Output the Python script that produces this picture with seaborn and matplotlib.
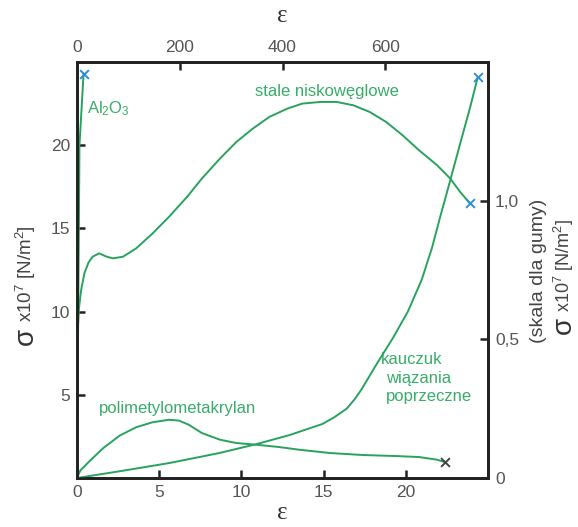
import matplotlib
matplotlib.use('Agg')
import pandas as pd
import matplotlib.pyplot as plt
import seaborn as sns

sns.set_style('ticks')
plt.rcParams['font.family'] = ['Liberation Sans', 'DejaVu Sans']
plt.rcParams['mathtext.fontset'] = 'custom'
plt.rcParams['mathtext.rm'] = 'Liberation Sans'
plt.rcParams['mathtext.it'] = 'Liberation Sans:italic'

# bottom axis (eps) / left axis (sigma x1e7)
al2o3_eps = [0, 0.15, 0.4]
al2o3_sig = [0, 20.0, 24.3]

steel_eps = [0, 0.05, 0.12, 0.25, 0.45, 0.7, 0.95, 1.35, 1.8, 2.2, 2.8, 3.6, 4.6, 5.6,
             6.7, 7.6, 8.7, 9.7, 10.7, 11.7, 12.8, 13.7, 14.8, 15.8, 16.8, 17.8,
             18.8, 19.8, 20.8, 21.9, 22.7, 23.3, 23.9]
steel_sig = [0, 9.0, 10.2, 11.3, 12.3, 12.95, 13.3, 13.5, 13.3, 13.2, 13.3, 13.8, 14.7, 15.7,
             16.9, 18.0, 19.2, 20.2, 21.0, 21.7, 22.2, 22.5, 22.6, 22.6, 22.4, 22.0,
             21.4, 20.6, 19.7, 18.8, 18.0, 17.2, 16.5]

pmma_eps = [0, 0.2, 0.8, 1.6, 2.6, 3.6, 4.6, 5.6, 6.2, 6.8, 7.6, 8.7, 9.7, 10.9,
            12.3, 13.5, 15.4, 17.4, 19.4, 20.8, 21.9, 22.4]
pmma_sig = [0, 0.45, 1.05, 1.8, 2.55, 3.05, 3.35, 3.5, 3.45, 3.2, 2.7, 2.3, 2.1, 2.0,
            1.86, 1.7, 1.5, 1.38, 1.32, 1.26, 1.1, 0.95]

# top axis (eps) / right axis (rubber scale)
rubber_eps = [0, 82, 180, 277, 349, 414, 478, 500, 525, 540, 554, 583, 615, 644,
              671, 691, 706, 726, 745, 765, 780]
rubber_sig = [0, 0.024, 0.054, 0.090, 0.122, 0.155, 0.195, 0.218, 0.25, 0.283, 0.32,
              0.41, 0.505, 0.60, 0.715, 0.83, 0.935, 1.07, 1.20, 1.335, 1.445]

bottom_ticks = [0, 5, 10, 15, 20]
left_ticks = [5, 10, 15, 20]
top_ticks = [0, 200, 400, 600]
right_ticks = [0, 0.5, 1.0]
right_labels = ['0', '0,5', '1,0']

green = '#27a35e'
text_green = '#38ad69'
blue = '#2b8fd6'
tick_col = '#555555'

W, H = 578, 527
fig = plt.figure(figsize=(W / 100, H / 100), dpi=100)
ax = fig.add_axes([77 / W, 1 - 478 / H, (488 - 77) / W, (478 - 62) / H])
ax_r = ax.twinx()
ax_t = ax_r.twiny()

lw = 1.4
sns.lineplot(x=al2o3_eps, y=al2o3_sig, ax=ax, sort=False, estimator=None, color=green, lw=lw)
sns.lineplot(x=steel_eps, y=steel_sig, ax=ax, sort=False, estimator=None, color=green, lw=lw)
sns.lineplot(x=pmma_eps, y=pmma_sig, ax=ax, sort=False, estimator=None, color=green, lw=lw)
sns.lineplot(x=rubber_eps, y=rubber_sig, ax=ax_t, sort=False, estimator=None, color=green, lw=lw)

# end markers
sns.scatterplot(x=[al2o3_eps[-1], steel_eps[-1]], y=[al2o3_sig[-1], steel_sig[-1]],
                ax=ax, marker='x', color=blue, s=40, linewidth=1.4, zorder=5)
sns.scatterplot(x=[pmma_eps[-1]], y=[pmma_sig[-1]], ax=ax, marker='x',
                color='#444444', s=40, linewidth=1.4, zorder=5)
sns.scatterplot(x=[rubber_eps[-1]], y=[rubber_sig[-1]], ax=ax_t, marker='x',
                color=blue, s=40, linewidth=1.4, zorder=5)

ax.set_xlim(0, 25)
ax.set_ylim(0, 25)
ax_t.set_xlim(0, 800)
ax_r.set_ylim(0, 1.5)

ax.set_xticks(bottom_ticks)
ax.set_yticks(left_ticks)
ax_t.set_xticks(top_ticks)
ax_r.set_yticks(right_ticks)
ax_r.set_yticklabels(right_labels)
ax.set_xlabel('')
ax.set_ylabel('')
ax_t.set_xlabel('')
ax_r.set_ylabel('')

for a in (ax, ax_r, ax_t):
    for s in a.spines.values():
        s.set_linewidth(1.8)
        s.set_color('#222222')
    a.tick_params(direction='in', length=6, width=1.8, labelsize=12.5,
                  labelcolor=tick_col, color='#222222', pad=5)

# in-plot labels
fs = 12
ax.text(0.6, 22.2, r'Al$_2$O$_3$', color=text_green, fontsize=fs, ha='left', va='center')
ax.text(15.2, 23.2, 'stale niskowęglowe', color=text_green, fontsize=fs, ha='center', va='center')
ax.text(1.35, 4.2, 'polimetylometakrylan', color=text_green, fontsize=fs, ha='left', va='center')
ax.text(18.5, 6.85, 'kauczuk', color=text_green, fontsize=fs, ha='left', va='baseline')
ax.text(18.8, 5.7, 'wiązania', color=text_green, fontsize=fs, ha='left', va='baseline')
ax.text(18.8, 4.6, 'poprzeczne', color=text_green, fontsize=fs, ha='left', va='baseline')

# axis titles
def ftext(x, y, s, **kw):
    fig.text(x / W, 1 - y / H, s, **kw)

ftext(282, 16, 'ε', fontsize=18, family='Liberation Serif', ha='center', va='center', color='#333333')
ftext(282, 513, 'ε', fontsize=18, family='Liberation Serif', ha='center', va='center', color='#333333')

# left: sigma + unit, rotated, reading bottom to top
ftext(33, 345, 'σ', fontsize=20, rotation=90, rotation_mode='anchor', ha='left', va='baseline', color='#333333')
ftext(32, 322, r'x10$^7$ [N/m$^2$]', fontsize=13.5, rotation=90, rotation_mode='anchor',
      ha='left', va='baseline', color='#444444')
ftext(543, 343, '(skala dla gumy)', fontsize=14, rotation=90, rotation_mode='anchor',
      ha='left', va='baseline', color='#444444')
ftext(571, 334, 'σ', fontsize=20, rotation=90, rotation_mode='anchor', ha='left', va='baseline', color='#333333')
ftext(570, 312, r'x10$^7$ [N/m$^2$]', fontsize=13, rotation=90, rotation_mode='anchor',
      ha='left', va='baseline', color='#444444')

fig.savefig('out.png', dpi=100)
